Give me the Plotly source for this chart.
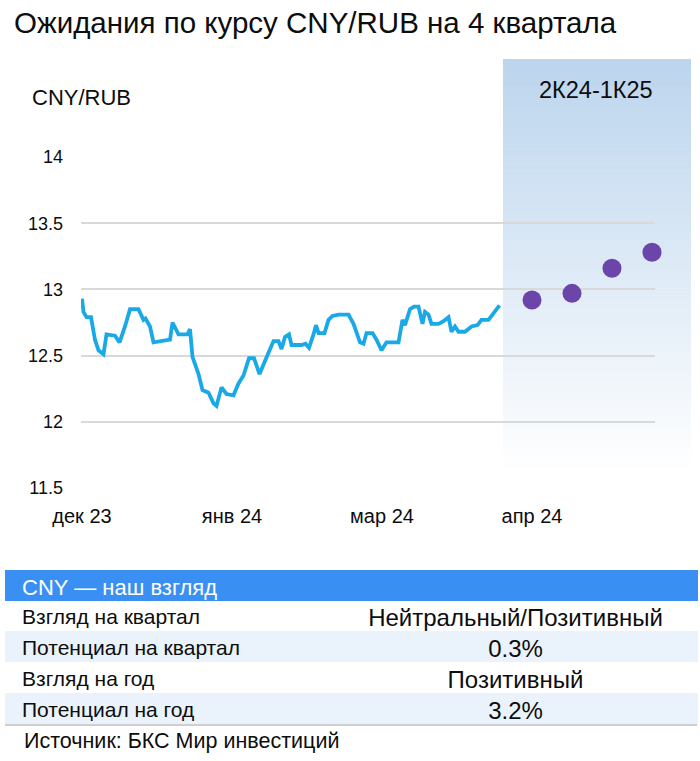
import plotly.graph_objects as go

W, H = 700, 761

# ---------------- data ----------------
line_x = [0, 0.3, 0.9, 1.8, 2.6, 3.3, 4.3, 4.9, 6.6, 7.5, 8.6, 9.6, 11.3, 12.3, 12.7, 13.6, 14.3,
          17.6, 18.1, 19.3, 21.1, 21.6, 22.1, 23.3, 24.1, 25.3, 26.3, 26.9, 27.9, 28.9, 30.3,
          31.3, 32.3, 33.4, 34.4, 35.5, 36.6, 37.6, 38.3, 39.3, 39.9, 40.6, 41.4, 41.9, 43.9,
          44.7, 45.4, 46.3, 46.8, 47.3, 48.5, 49.3, 50.1, 51.3, 53.3, 54.3, 54.9, 55.6, 56.3,
          56.9, 58.1, 58.9, 59.9, 60.9, 63.3, 64.1, 64.6, 65.6, 66.4, 67.3, 68.1, 68.6, 69.3,
          69.9, 71.3, 72.3, 73.3, 73.9, 74.6, 75.3, 76.6, 77.9, 79.1, 79.9, 81.3, 82.3, 83.5]
line_y = [12.93, 12.83, 12.79, 12.79, 12.62, 12.54, 12.51, 12.66, 12.65, 12.60, 12.72, 12.85,
          12.85, 12.77, 12.78, 12.72, 12.60, 12.62, 12.75, 12.66, 12.66, 12.70, 12.49, 12.36,
          12.24, 12.22, 12.14, 12.12, 12.26, 12.21, 12.20, 12.29, 12.35, 12.48, 12.48, 12.36,
          12.46, 12.56, 12.61, 12.61, 12.55, 12.64, 12.66, 12.58, 12.58, 12.59, 12.56, 12.66,
          12.73, 12.67, 12.67, 12.77, 12.80, 12.81, 12.81, 12.74, 12.67, 12.60, 12.59, 12.67,
          12.67, 12.62, 12.54, 12.60, 12.60, 12.77, 12.73, 12.85, 12.87, 12.87, 12.74, 12.83,
          12.81, 12.74, 12.74, 12.76, 12.79, 12.68, 12.72, 12.68, 12.68, 12.72, 12.73, 12.77,
          12.77, 12.82, 12.88]

forecast_x = [90, 98, 106, 114]
forecast_y = [12.92, 12.97, 13.16, 13.28]

x_tick_vals = [0, 30, 60, 90]
x_tick_text = ["дек 23", "янв 24", "мар 24", "апр 24"]
y_tick_vals = [11.5, 12, 12.5, 13, 13.5, 14]

table_labels = ["Взгляд на квартал", "Потенциал на квартал", "Взгляд на год", "Потенциал на год"]
table_values = ["Нейтральный/Позитивный", "0.3%", "Позитивный", "3.2%"]
table_header = "CNY — наш взгляд"

title_text = "Ожидания по курсу CNY/RUB на 4 квартала"
y_unit_text = "CNY/RUB"
band_text = "2К24-1К25"
source_text = "Источник: БКС Мир инвестиций"

FONT = "Liberation Sans, Arial, sans-serif"
INK = "#0d0d0d"

# ---------------- helpers (pixel -> paper) ----------------
def px(x):
    return x / W

def py(y):
    return 1 - y / H

fig = go.Figure()

fig.add_trace(go.Scatter(
    x=line_x, y=line_y, mode="lines",
    line=dict(color="#19a9e6", width=3.8, shape="linear"),
    hoverinfo="skip", showlegend=False,
))
fig.add_trace(go.Scatter(
    x=forecast_x, y=forecast_y, mode="markers",
    marker=dict(color="#6b45aa", size=19, line=dict(width=0)),
    hoverinfo="skip", showlegend=False, cliponaxis=False,
))

# table
HEAD_BLUE = "#3a8ff2"
LIGHT = "#eaf2fb"
fill_rows = ["white", LIGHT, "white", LIGHT]
fig.add_trace(go.Table(
    domain=dict(x=[px(5), px(697)], y=[py(724), py(570)]),
    columnwidth=[9, 320, 363],
    header=dict(
        values=["", table_header, ""],
        fill_color=HEAD_BLUE,
        line=dict(color=HEAD_BLUE, width=1),
        font=dict(family=FONT, size=22, color="white"),
        align=["left", "left", "center"],
        height=30,
    ),
    cells=dict(
        values=[["", "", "", ""], table_labels, table_values],
        fill_color=[fill_rows, fill_rows, fill_rows],
        line=dict(color=[fill_rows, fill_rows, fill_rows], width=1),
        font=dict(family=FONT, size=[21, 21, 24], color=INK),
        align=["left", "left", "center"],
        height=31,
    ),
))

# gradient band (2K24-1K25)
shapes = []
top, bot = 59, 476
n = 60
c0 = (188, 213, 237)
for i in range(n):
    y0 = top + (bot - top) * i / n
    y1 = top + (bot - top) * (i + 1) / n
    t = i / (n - 1)
    c = tuple(int(round(c0[k] + (255 - c0[k]) * t)) for k in range(3))
    shapes.append(dict(
        type="rect", xref="paper", yref="paper",
        x0=px(503), x1=px(691), y0=py(y1 + 0.5), y1=py(y0),
        fillcolor="rgb(%d,%d,%d)" % c, line=dict(width=0), layer="below",
    ))
# bottom line of table
shapes.append(dict(type="line", xref="paper", yref="paper",
                   x0=px(5), x1=px(697), y0=py(725), y1=py(725),
                   line=dict(color="#cfcfcf", width=2)))

annotations = [
    dict(text=title_text, x=px(12), y=py(22), xref="paper", yref="paper",
         xanchor="left", yanchor="middle", showarrow=False,
         font=dict(family=FONT, size=29.5, color=INK)),
    dict(text=y_unit_text, x=px(30), y=py(97), xref="paper", yref="paper",
         xanchor="left", yanchor="middle", showarrow=False,
         font=dict(family=FONT, size=22, color=INK)),
    dict(text=band_text, x=px(596), y=py(90), xref="paper", yref="paper",
         xanchor="center", yanchor="middle", showarrow=False,
         font=dict(family=FONT, size=23.5, color=INK)),
    dict(text=source_text, x=px(22), y=py(741), xref="paper", yref="paper",
         xanchor="left", yanchor="middle", showarrow=False,
         font=dict(family=FONT, size=21.5, color=INK)),
]

fig.update_layout(
    width=W, height=H,
    margin=dict(l=0, r=0, t=0, b=0, autoexpand=False),
    paper_bgcolor="white", plot_bgcolor="rgba(0,0,0,0)",
    shapes=shapes, annotations=annotations,
    showlegend=False,
    xaxis=dict(
        domain=[px(81), px(655)], range=[-0.2, 114.6],
        automargin=False,
        tickmode="array", tickvals=x_tick_vals, ticktext=x_tick_text,
        showgrid=False, zeroline=False, showline=False, ticks="",
        ticklabelstandoff=14,
        tickfont=dict(family=FONT, size=20, color=INK),
    ),
    yaxis=dict(
        domain=[py(488), py(157)], range=[11.5, 14.0],
        automargin=False,
        tickmode="array", tickvals=y_tick_vals,
        showgrid=True, gridcolor="#d9d9d9", gridwidth=1.5,
        zeroline=False, showline=False, ticks="",
        ticklabelstandoff=17,
        tickfont=dict(family=FONT, size=18, color=INK),
    ),
)

fig.write_html("out.html")
